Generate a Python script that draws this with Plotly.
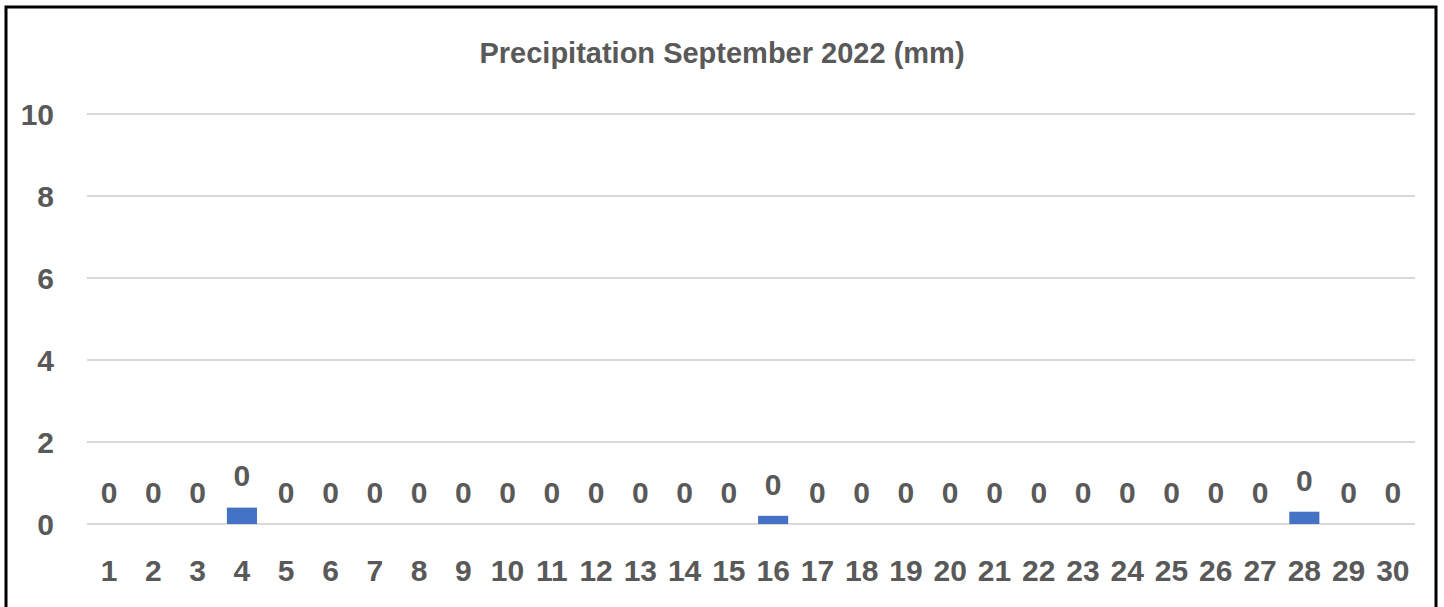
import plotly.graph_objects as go

days = [str(d) for d in range(1, 31)]
precip = [0, 0, 0, 0.4, 0, 0, 0, 0, 0, 0, 0, 0, 0, 0, 0,
          0.2, 0, 0, 0, 0, 0, 0, 0, 0, 0, 0, 0, 0.3, 0, 0]
y_ticks = [0, 2, 4, 6, 8, 10]
title = "Precipitation September 2022 (mm)"

gray = "#595959"
font_family = "'Liberation Sans', Arial, sans-serif"
label_offset = 0.7  # data-label gap above bar top (style)

W, H = 1444, 607
L, R, T, B = 87, 29, 106, 83

fig = go.Figure()
fig.add_trace(go.Bar(
    x=days, y=precip,
    marker=dict(color="#4472c4", line=dict(width=0)),
    width=0.68,
    hoverinfo="x+y",
))
fig.add_trace(go.Scatter(
    x=days, y=[v + label_offset for v in precip],
    mode="text",
    text=[f"{v:.0f}" for v in precip],
    textposition="middle center",
    textfont=dict(family=font_family, size=30, color=gray, weight="bold"),
    cliponaxis=False, hoverinfo="skip",
))

fig.update_layout(
    width=W, height=H,
    margin=dict(l=L, r=R, t=T, b=B),
    paper_bgcolor="white", plot_bgcolor="white",
    showlegend=False,
    title=dict(text=title, x=0.5, xref="container", xanchor="center",
               y=1 - 53 / H, yanchor="middle",
               font=dict(family=font_family, size=29, color=gray, weight="bold")),
    font=dict(family=font_family, color=gray),
)
fig.update_xaxes(
    type="category", range=[-0.5, len(days) - 0.5], autorange=False,
    showgrid=False, showline=False, zeroline=False,
    ticks="", tickfont=dict(family=font_family, size=30, color=gray, weight="bold"),
    ticklabelstandoff=26,
)
fig.update_yaxes(
    range=[0, 10.2], autorange=False, tickvals=y_ticks, showgrid=True,
    gridcolor="#d9d9d9", gridwidth=1.5,
    zeroline=True, zerolinecolor="#d9d9d9", zerolinewidth=1.5, showline=False,
    ticks="", tickfont=dict(family=font_family, size=30, color=gray, weight="bold"),
    ticklabelstandoff=32,
)

# outer black frame (paper-relative decoration)
pw, ph = W - L - R, H - T - B
fig.add_shape(type="rect", xref="paper", yref="paper",
              x0=(6 - L) / pw, x1=(1436 - L) / pw,
              y0=-(H - B + 30 - (H - B)) / ph - (B / ph), y1=(H - B - 7) / ph,
              line=dict(color="black", width=3), fillcolor="rgba(0,0,0,0)", layer="above")

fig.write_html("out.html", config={"displayModeBar": False},
               post_script="document.body.style.margin='0';document.body.style.overflow='hidden';")
